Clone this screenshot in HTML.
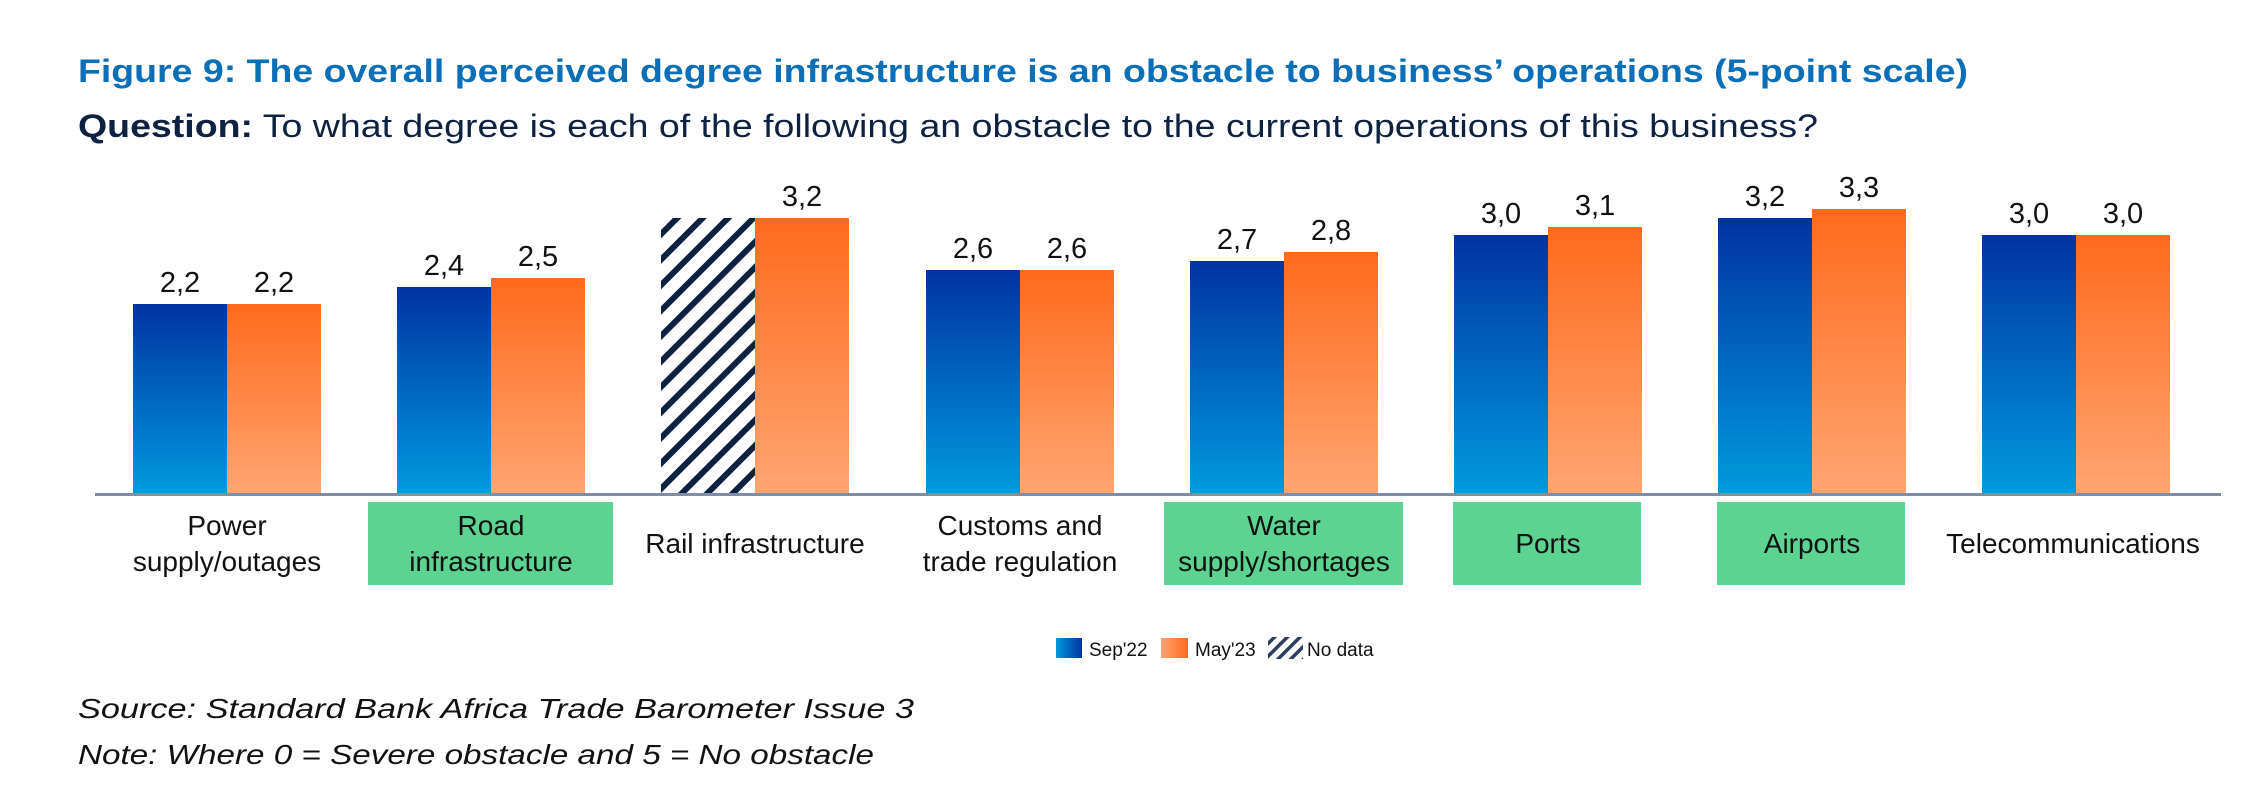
<!DOCTYPE html>
<html><head><meta charset="utf-8"><style>html,body{margin:0;padding:0;background:#fff}svg{display:block}</style></head><body>
<svg width="2264" height="812" viewBox="0 0 2264 812" xmlns="http://www.w3.org/2000/svg" font-family="'Liberation Sans', Arial, sans-serif">
<defs>
<linearGradient id="gb" x1="0" y1="0" x2="0" y2="1"><stop offset="0" stop-color="#0033a1"/><stop offset="1" stop-color="#009ade"/></linearGradient>
<linearGradient id="go" x1="0" y1="0" x2="0" y2="1"><stop offset="0" stop-color="#ff6a1c"/><stop offset="1" stop-color="#ffa572"/></linearGradient>
<linearGradient id="lb" x1="0" y1="0" x2="1" y2="0"><stop offset="0" stop-color="#009ade"/><stop offset="1" stop-color="#0033a1"/></linearGradient>
<linearGradient id="lo" x1="0" y1="0" x2="1" y2="0"><stop offset="0" stop-color="#ffa572"/><stop offset="1" stop-color="#ff6a1c"/></linearGradient>
<pattern id="hatch" patternUnits="userSpaceOnUse" width="18" height="18" patternTransform="rotate(45)">
<rect width="18" height="18" fill="#fff"/><rect x="0" y="0" width="6" height="18" fill="#0d2240"/></pattern>
<pattern id="hatch2" patternUnits="userSpaceOnUse" width="9" height="9" patternTransform="rotate(45)">
<rect width="9" height="9" fill="#fff"/><rect x="0" y="0" width="3.5" height="9" fill="#2a3f5f"/></pattern>
</defs>
<text x="78" y="82" font-size="32" font-weight="bold" fill="#0a6fb8" textLength="1890" lengthAdjust="spacingAndGlyphs">Figure 9: The overall perceived degree infrastructure is an obstacle to business’ operations (5-point scale)</text>
<text x="78" y="137" font-size="32" fill="#0d2240" textLength="1740" lengthAdjust="spacingAndGlyphs"><tspan font-weight="bold">Question:</tspan> To what degree is each of the following an obstacle to the current operations of this business?</text>

<g font-size="29" fill="#111" text-anchor="middle">
<!-- group 0 -->
<rect x="133" y="304" width="94" height="190" fill="url(#gb)"/><rect x="227" y="304" width="94" height="190" fill="url(#go)"/>
<text x="180" y="292">2,2</text><text x="274" y="292">2,2</text>
<!-- group 1 -->
<rect x="397" y="287" width="94" height="207" fill="url(#gb)"/><rect x="491" y="278" width="94" height="216" fill="url(#go)"/>
<text x="444" y="275">2,4</text><text x="538" y="266">2,5</text>
<!-- group 2 -->
<rect x="661" y="218" width="94" height="276" fill="url(#hatch)"/><rect x="755" y="218" width="94" height="276" fill="url(#go)"/>
<text x="802" y="206">3,2</text>
<!-- group 3 -->
<rect x="926" y="270" width="94" height="224" fill="url(#gb)"/><rect x="1020" y="270" width="94" height="224" fill="url(#go)"/>
<text x="973" y="258">2,6</text><text x="1067" y="258">2,6</text>
<!-- group 4 -->
<rect x="1190" y="261" width="94" height="233" fill="url(#gb)"/><rect x="1284" y="252" width="94" height="242" fill="url(#go)"/>
<text x="1237" y="249">2,7</text><text x="1331" y="240">2,8</text>
<!-- group 5 -->
<rect x="1454" y="235" width="94" height="259" fill="url(#gb)"/><rect x="1548" y="227" width="94" height="267" fill="url(#go)"/>
<text x="1501" y="223">3,0</text><text x="1595" y="215">3,1</text>
<!-- group 6 -->
<rect x="1718" y="218" width="94" height="276" fill="url(#gb)"/><rect x="1812" y="209" width="94" height="285" fill="url(#go)"/>
<text x="1765" y="206">3,2</text><text x="1859" y="197">3,3</text>
<!-- group 7 -->
<rect x="1982" y="235" width="94" height="259" fill="url(#gb)"/><rect x="2076" y="235" width="94" height="259" fill="url(#go)"/>
<text x="2029" y="223">3,0</text><text x="2123" y="223">3,0</text>
</g>
<rect x="95" y="493" width="2126" height="3" fill="#7f8ea6"/>

<g fill="#5cd391">
<rect x="368" y="502" width="245" height="83"/>
<rect x="1164" y="502" width="239" height="83"/>
<rect x="1453" y="502" width="188" height="83"/>
<rect x="1717" y="502" width="188" height="83"/>
</g>
<g font-size="28" fill="#111" text-anchor="middle">
<text x="227" y="535">Power</text><text x="227" y="571">supply/outages</text>
<text x="491" y="535">Road</text><text x="491" y="571">infrastructure</text>
<text x="755" y="553">Rail infrastructure</text>
<text x="1020" y="535">Customs and</text><text x="1020" y="571">trade regulation</text>
<text x="1284" y="535">Water</text><text x="1284" y="571">supply/shortages</text>
<text x="1548" y="553">Ports</text>
<text x="1812" y="553">Airports</text>
<text x="2073" y="553">Telecommunications</text>
</g>

<rect x="1056" y="638" width="26" height="20" fill="url(#lb)"/>
<text x="1089" y="656" font-size="19" fill="#111">Sep'22</text>
<rect x="1161" y="638" width="27" height="20" fill="url(#lo)"/>
<text x="1195" y="656" font-size="19" fill="#111">May'23</text>
<rect x="1268" y="637" width="35" height="22" fill="url(#hatch2)"/>
<text x="1307" y="656" font-size="19" fill="#111">No data</text>

<text x="78" y="718" font-size="28" font-style="italic" fill="#111" textLength="836" lengthAdjust="spacingAndGlyphs">Source: Standard Bank Africa Trade Barometer Issue 3</text>
<text x="78" y="764" font-size="28" font-style="italic" fill="#111" textLength="796" lengthAdjust="spacingAndGlyphs">Note: Where 0 = Severe obstacle and 5 = No obstacle</text>
</svg>
</body></html>
